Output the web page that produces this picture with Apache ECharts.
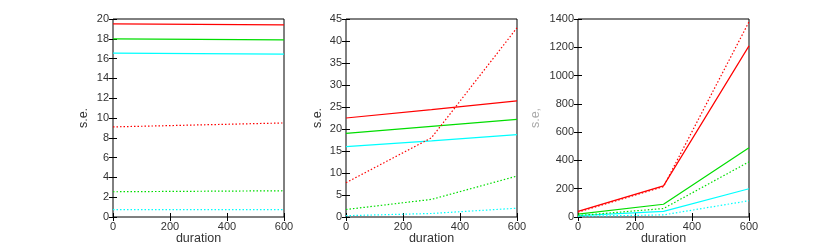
<!DOCTYPE html>
<html><head><meta charset="utf-8">
<script src="https://cdn.jsdelivr.net/npm/echarts@6/dist/echarts.min.js"></script>
<style>html,body{margin:0;padding:0;background:#fff}#c{width:830px;height:245px}</style>
</head><body><div id="c"></div>
<script>
const durations = [0, 300, 600];
// panel 1
const p1RedSolid = [19.5, 19.45, 19.4];
const p1GreenSolid = [18.0, 17.95, 17.9];
const p1CyanSolid = [16.55, 16.5, 16.45];
const p1RedDotted = [9.1, 9.3, 9.5];
const p1GreenDotted = [2.55, 2.6, 2.65];
const p1CyanDotted = [0.75, 0.75, 0.75];
// panel 2
const p2RedSolid = [22.5, 24.4, 26.4];
const p2GreenSolid = [19.0, 20.6, 22.2];
const p2CyanSolid = [16.0, 17.3, 18.7];
const p2RedDotted = [7.8, 18.0, 43.0];
const p2GreenDotted = [1.7, 4.0, 9.3];
const p2CyanDotted = [0.3, 0.8, 2.0];
// panel 3
const p3RedSolid = [40, 220, 1210];
const p3GreenSolid = [20, 90, 490];
const p3CyanSolid = [10, 40, 200];
const p3RedDotted = [35, 215, 1380];
const p3GreenDotted = [10, 60, 390];
const p3CyanDotted = [5, 15, 115];

const yMax = [20, 45, 1400];
const yStep = [2, 5, 200];
const yNames = ['s.e.', 's.e.', 's.e,'];

const RED = '#ff0000', GREEN = '#00dd00', CYAN = '#00ffff';
const DOT = [1.5, 2];
const panels = [
  [[p1RedSolid, RED, 'solid'], [p1GreenSolid, GREEN, 'solid'], [p1CyanSolid, CYAN, 'solid'], [p1RedDotted, RED, DOT], [p1GreenDotted, GREEN, DOT], [p1CyanDotted, CYAN, DOT]],
  [[p2RedSolid, RED, 'solid'], [p2GreenSolid, GREEN, 'solid'], [p2CyanSolid, CYAN, 'solid'], [p2RedDotted, RED, DOT], [p2GreenDotted, GREEN, DOT], [p2CyanDotted, CYAN, DOT]],
  [[p3RedSolid, RED, 'solid'], [p3GreenSolid, GREEN, 'solid'], [p3CyanSolid, CYAN, 'solid'], [p3RedDotted, RED, DOT], [p3GreenDotted, GREEN, DOT], [p3CyanDotted, CYAN, DOT]]
];
const lefts = [113, 346, 578];
const nameGaps = [23, 22, 36];
const nameColors = ['#333', '#333', '#aaa'];
const width = 171;
const grids = [], xAxes = [], yAxes = [], series = [];
const FF = 'Liberation Sans';
const font = {fontFamily: FF, fontSize: 11, color: '#333'};
panels.forEach((p, i) => {
  grids.push({left: lefts[i], width: width, top: 19, height: 198, show: true, borderColor: '#000', borderWidth: 1,
    backgroundColor: 'transparent', outerBoundsMode: 'none', containLabel: false});
  const xa = {type: 'value', gridIndex: i, min: 0, max: 600, interval: 200,
    axisLine: {show: false}, splitLine: {show: false},
    axisTick: {inside: true, length: 4, lineStyle: {color: '#000'}}};
  xAxes.push(Object.assign({}, xa, {position: 'bottom', name: 'duration', nameLocation: 'middle', nameGap: 15,
    nameMoveOverlap: false,
    nameTextStyle: {fontFamily: FF, fontSize: 12.5, color: '#333', verticalAlign: 'top'},
    axisLabel: Object.assign({margin: 4}, font)}));
  xAxes.push(Object.assign({}, xa, {position: 'top', axisLabel: {show: false}}));
  const ya = {type: 'value', gridIndex: i, min: 0, max: yMax[i], interval: yStep[i],
    axisLine: {show: false}, splitLine: {show: false},
    axisTick: {inside: true, length: 4, lineStyle: {color: '#000'}}};
  yAxes.push(Object.assign({}, ya, {position: 'left', name: yNames[i], nameLocation: 'middle', nameRotate: 90,
    nameGap: nameGaps[i], nameMoveOverlap: false,
    nameTextStyle: {fontFamily: FF, fontSize: 12.5, color: nameColors[i], verticalAlign: 'bottom'},
    axisLabel: Object.assign({margin: 4, formatter: v => String(v)}, font)}));
  yAxes.push(Object.assign({}, ya, {position: 'right', axisLabel: {show: false}}));
  p.forEach(([vals, color, type]) => {
    series.push({type: 'line', xAxisIndex: 2 * i, yAxisIndex: 2 * i, symbol: 'none', silent: true,
      data: durations.map((d, k) => [d, vals[k]]),
      lineStyle: {color: color, width: 1.2, type: type}});
  });
});
const chart = echarts.init(document.getElementById('c'), null, {renderer: 'canvas'});
chart.setOption({animation: false, grid: grids, xAxis: xAxes, yAxis: yAxes, series: series});
</script></body></html>
